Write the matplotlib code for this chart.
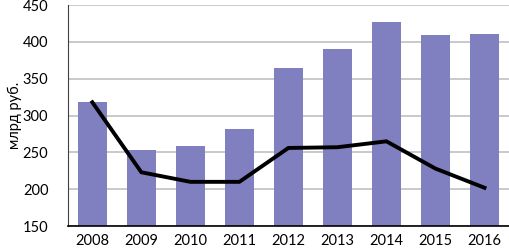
import numpy as np
import matplotlib.pyplot as plt

years = ['2008', '2009', '2010', '2011', '2012', '2013', '2014', '2015', '2016']
bar_values = [318, 253, 258, 282, 365, 390, 427, 410, 411]
line_values = [318, 223, 210, 210, 256, 257, 265, 228, 202]
y_ticks = [150, 200, 250, 300, 350, 400, 450]

plt.rcParams['font.family'] = ['Lato', 'DejaVu Sans']

fig = plt.figure(figsize=(5.1, 2.52), dpi=100)
ax = fig.add_axes([0.133, 0.103, 0.865, 0.877])

x = np.arange(len(years))
ax.bar(x, [v - 150 for v in bar_values], bottom=150, width=0.6,
       color='#8080c0', zorder=2)
ax.plot(x, line_values, color='black', linewidth=2.8, zorder=3,
        solid_joinstyle='miter')

ax.set_xlim(-0.5, len(years) - 0.5)
ax.set_ylim(150, 450)
ax.set_yticks(y_ticks)
ax.set_xticks(x)
ax.set_xticklabels(years)
ax.yaxis.grid(True, color='#c0c0c0', linewidth=1.2, zorder=0)
ax.set_axisbelow(True)
ax.tick_params(axis='both', length=0, labelsize=10.5, colors='black')
ax.tick_params(axis='y', pad=14)
ax.tick_params(axis='x', pad=6)
for s in ['top', 'right']:
    ax.spines[s].set_visible(False)
ax.spines['left'].set_color('#404040')
ax.spines['left'].set_linewidth(0.8)
ax.spines['bottom'].set_color('black')
ax.spines['bottom'].set_linewidth(1.2)
ax.set_ylabel('млрд руб.', fontsize=10.5)
ax.yaxis.set_label_coords(-0.105, 0.5)

fig.savefig('out.png', dpi=100)
